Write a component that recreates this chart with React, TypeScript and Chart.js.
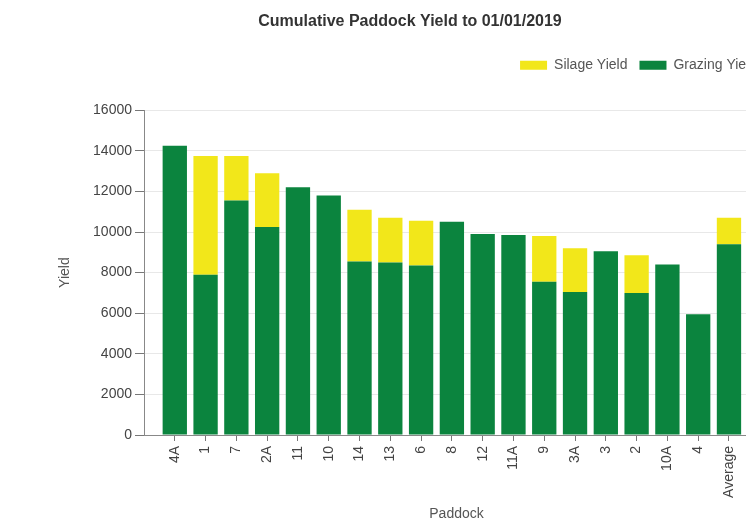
import { useEffect, useRef } from 'react';
import { Chart, registerables } from 'chart.js';

Chart.register(...registerables);

const paddocks = ['4A', '1', '7', '2A', '11', '10', '14', '13', '6', '8', '12', '11A', '9', '3A', '3', '2', '10A', '4', 'Average'];
const grazingYield = [14250, 7900, 11550, 10250, 12200, 11800, 8550, 8500, 8350, 10500, 9900, 9850, 7550, 7050, 9050, 7000, 8400, 5950, 9400];
const silageYield = [0, 5850, 2200, 2650, 0, 0, 2550, 2200, 2200, 0, 0, 0, 2250, 2150, 0, 1850, 0, 0, 1300];
const yTickStep = 2000;
const yMax = 16000;

const FONT = 'Liberation Sans, Arial, sans-serif';

const legendSpacer = {
  id: 'legendSpacer',
  beforeInit(chart: any) {
    const legend = chart.legend;
    if (!legend) return;
    const origFit = legend.fit;
    legend.fit = function () {
      origFit.call(this);
      this.height += 28;
    };
  },
};

export default function App() {
  const ref = useRef<HTMLCanvasElement | null>(null);

  useEffect(() => {
    if (!ref.current) return;
    const chart = new Chart(ref.current, {
      type: 'bar',
      data: {
        datasets: [
          {
            label: 'Grazing Yield',
            data: grazingYield.map((v, i) => ({ x: i, y: v })),
            backgroundColor: '#0b843e',
            borderWidth: 0,
            categoryPercentage: 1,
            barPercentage: 0.79,
          },
          {
            label: 'Silage Yield',
            data: silageYield.map((v, i) => ({ x: i, y: v })),
            backgroundColor: '#f2e71a',
            borderWidth: 0,
            categoryPercentage: 1,
            barPercentage: 0.79,
          },
        ],
      },
      options: {
        responsive: false,
        animation: false,
        layout: { padding: { left: 51, right: 0, top: 0, bottom: 0 } },
        plugins: {
          title: {
            display: true,
            text: 'Cumulative Paddock Yield to 01/01/2019',
            color: '#333',
            font: { size: 16, weight: 'bold', family: FONT },
            padding: { top: 12, bottom: 15 },
          },
          legend: {
            display: true,
            position: 'top',
            align: 'end',
            labels: {
              boxWidth: 27,
              boxHeight: 9,
              padding: 12,
              color: '#555',
              font: { size: 14, family: FONT },
              sort: (a: any, b: any) => b.datasetIndex - a.datasetIndex,
            },
          },
          tooltip: { enabled: false },
        },
        scales: {
          x: {
            type: 'linear',
            min: -1,
            max: 19.3,
            offset: false,
            stacked: true,
            afterBuildTicks: (s: any) => {
              s.ticks = s.ticks.filter(
                (t: any) => Number.isInteger(t.value) && t.value >= 0 && t.value < paddocks.length
              );
            },
            afterFit: (s: any) => {
              s.height = 88;
            },
            ticks: {
              stepSize: 1,
              autoSkip: false,
              minRotation: 90,
              maxRotation: 90,
              padding: 5,
              color: '#444',
              font: { size: 14, family: FONT },
              callback: (v: any) => paddocks[v as number] ?? '',
            },
            grid: { display: true, offset: false, drawOnChartArea: false, tickLength: 6, tickColor: '#777' },
            border: { display: true, color: '#888' },
            title: {
              display: true,
              text: 'Paddock',
              color: '#555',
              font: { size: 14, family: FONT },
              padding: { top: 4, bottom: 0 },
            },
          },
          y: {
            stacked: true,
            min: 0,
            max: yMax,
            afterFit: (s: any) => {
              s.width = 93;
            },
            ticks: {
              stepSize: yTickStep,
              padding: 3,
              color: '#444',
              font: { size: 14, family: FONT },
              callback: (v: any) => String(v),
            },
            grid: { color: '#e8e8e8', tickLength: 9, tickColor: '#777' },
            border: { display: true, color: '#888' },
            title: {
              display: true,
              text: 'Yield',
              color: '#555',
              font: { size: 14, family: FONT },
              padding: { top: 6, bottom: 4 },
            },
          },
        },
      },
      plugins: [legendSpacer],
    } as any);
    return () => chart.destroy();
  }, []);

  return (
    <div
      style={{
        position: 'fixed',
        left: 0,
        top: 0,
        width: 746,
        height: 523,
        overflow: 'hidden',
        background: '#fff',
      }}
    >
      <canvas ref={ref} width={769} height={523} style={{ width: 769, height: 523, display: 'block' }} />
    </div>
  );
}
